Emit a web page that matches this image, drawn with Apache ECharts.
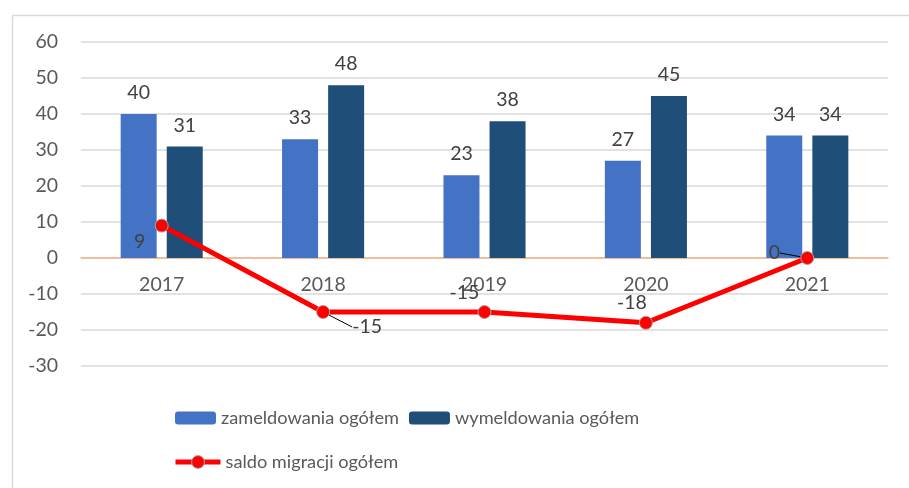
<!DOCTYPE html>
<html>
<head>
<meta charset="utf-8">
<script src="https://cdn.jsdelivr.net/npm/echarts@6/dist/echarts.min.js"></script>
<style>html,body{margin:0;padding:0;background:#fff}#c{width:909px;height:488px}</style>
</head>
<body>
<div id="c"></div>
<script>
const categories = ['2017', '2018', '2019', '2020', '2021'];
const zameldowania = [40, 33, 23, 27, 34];
const wymeldowania = [31, 48, 38, 45, 34];
const saldo = [9, -15, -15, -18, 0];
const yTicks = { min: -30, max: 60, interval: 10 };
const seriesNames = ['zameldowania ogółem', 'wymeldowania ogółem', 'saldo migracji ogółem'];

// label offsets for the line labels (dx, dy) in px
const saldoLabelOffsets = [[-22, 16], [44, 15], [-20, -19], [-14, -20], [-33, -5]];
const saldoLeader = [false, true, false, false, true];

const FONT = 'Lato';
const GRID_BOTTOM_Y = 366, ZERO_Y = 258;
const chart = echarts.init(document.getElementById('c'), null, { renderer: 'canvas' });
chart.setOption({
  animation: false,
  backgroundColor: '#fff',
  textStyle: { fontFamily: FONT },
  graphic: [{
    type: 'rect', left: 10, top: 13,
    shape: { width: 920, height: 500 },
    style: { fill: 'none', stroke: '#d9d9d9', lineWidth: 1.5 },
    silent: true, z: -10
  }],
  grid: { left: 81, right: 21, top: 42, bottom: 122, containLabel: false },
  legend: [{
    data: [seriesNames[0], seriesNames[1]],
    left: 175, top: 409, padding: 0, itemWidth: 41, itemHeight: 13, itemGap: 10,
    textStyle: { color: '#595959', fontSize: 18.2, fontFamily: FONT }
  }, {
    data: [{ name: seriesNames[2], lineStyle: { width: 5 }, itemStyle: { borderWidth: 1 } }],
    left: 173, top: 453, padding: 0, itemWidth: 45, itemHeight: 16,
    textStyle: { color: '#595959', fontSize: 18.2, fontFamily: FONT }
  }],
  xAxis: {
    type: 'category', data: categories,
    position: 'bottom', offset: -(GRID_BOTTOM_Y - ZERO_Y),
    axisLine: { onZero: false, lineStyle: { color: '#F4B183', width: 1.5 } },
    axisTick: { show: false },
    axisLabel: { color: '#595959', fontSize: 19.5, margin: 17, fontFamily: FONT },
    splitLine: { show: false }
  },
  yAxis: {
    type: 'value', min: yTicks.min, max: yTicks.max, interval: yTicks.interval,
    axisLine: { show: false }, axisTick: { show: false },
    axisLabel: { color: '#595959', fontSize: 19.5, margin: 23, fontFamily: FONT },
    splitLine: { lineStyle: { color: '#d9d9d9', width: 1.5 } }
  },
  series: [{
    name: seriesNames[0], type: 'bar', data: zameldowania,
    barWidth: 36, barGap: '28%',
    itemStyle: { color: '#4472C4' },
    label: { show: true, position: 'top', distance: 11, color: '#404040', fontSize: 19.5, fontFamily: FONT }
  }, {
    name: seriesNames[1], type: 'bar', data: wymeldowania,
    barWidth: 36,
    itemStyle: { color: '#1F4E79' },
    label: { show: true, position: 'top', distance: 11, color: '#404040', fontSize: 19.5, fontFamily: FONT }
  }, {
    name: seriesNames[2], type: 'line', data: saldo.map((v, i) => ({
      value: v,
      labelLine: { show: saldoLeader[i] }
    })),
    symbol: 'circle', symbolSize: 13,
    lineStyle: { color: '#FF0000', width: 5 },
    itemStyle: { color: '#FF0000', borderColor: '#a6a6a6', borderWidth: 1 },
    label: { show: true, position: 'inside', color: '#404040', fontSize: 19.5, fontFamily: FONT },
    labelLine: { show: true, lineStyle: { color: '#000', width: 1 } },
    labelLayout: function (p) {
      const o = saldoLabelOffsets[p.dataIndex];
      return { dx: o[0], dy: o[1] };
    },
    z: 5
  }]
});
</script>
</body>
</html>
